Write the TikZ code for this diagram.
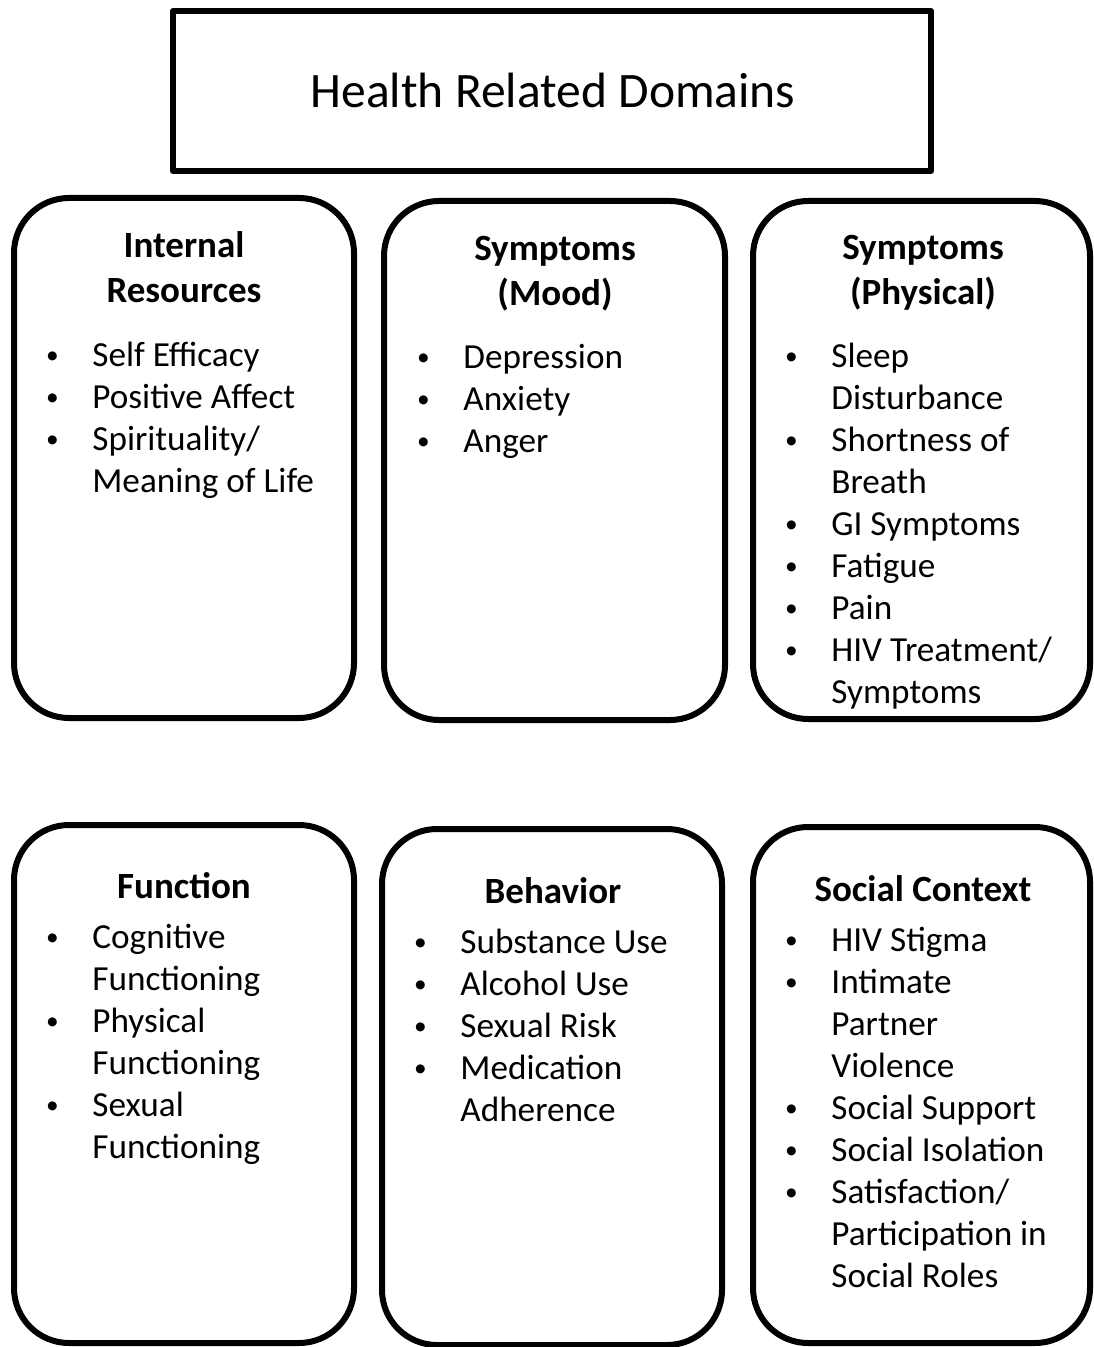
\documentclass[tikz,border=0pt]{standalone}
\usepackage{fontspec}
\setmainfont{Carlito}
\newcommand\bmark{\makebox[20pt]{\raisebox{1.3pt}{\scalebox{0.72}{\textbullet}}}}
\newcommand\bitem[1]{\makebox[30pt][l]{\bmark}#1\strut}
\newcommand\citem[1]{\hspace*{30pt}#1\strut}
\begin{document}
\begin{tikzpicture}[x=0.5pt,y=-0.5pt,
  box/.style={draw, line width=3pt, rounded corners=27.5pt},
  tbox/.style={draw, line width=3pt, line join=round},
  ttl/.style={font=\fontsize{18.5}{22.5}\selectfont\bfseries, align=center, anchor=north, inner sep=0pt},
  lst/.style={font=\fontsize{17.6}{21}\selectfont, align=left, anchor=north west, inner sep=0pt}]
\useasboundingbox (0,0) rectangle (1093,1347);
% title
\draw[tbox] (173,11) rectangle (931,171);
\node[font=\fontsize{24.8}{30}\selectfont, anchor=base, inner sep=0pt] (title) at (553,108) {Health Related Domains};
% boxes
\draw[box] (14,198) rectangle (354,718);
\draw[box] (384,201) rectangle (725,720);
\draw[box] (753,201) rectangle (1090,719);
\draw[box] (14,825) rectangle (354,1343);
\draw[box] (382,829) rectangle (722,1345);
\draw[box] (753,827) rectangle (1090,1343);
% box 1
\node[ttl] (t1) at (184,225.5) {\strut Internal\\\strut Resources};
\node[lst] (l1) at (32,336.6) {\bitem{Self Efficacy}\\\bitem{Positive Affect}\\\bitem{Spirituality/}\\\citem{Meaning of Life}};
% box 2
\node[ttl] (t2) at (555,228.5) {\strut Symptoms\\\strut (Mood)};
\node[lst] (l2) at (403,338.6) {\bitem{Depression}\\\bitem{Anxiety}\\\bitem{Anger}};
% box 3
\node[ttl] (t3) at (923,227.5) {\strut Symptoms\\\strut (Physical)};
\node[lst] (l3) at (771,337.6) {\bitem{Sleep}\\\citem{Disturbance}\\\bitem{Shortness of}\\\citem{Breath}\\\bitem{GI Symptoms}\\\bitem{Fatigue}\\\bitem{Pain}\\\bitem{HIV Treatment/}\\\citem{Symptoms}};
% box 4
\node[ttl] (t4) at (184,866.5) {\strut Function};
\node[lst] (l4) at (32,918.6) {\bitem{Cognitive}\\\citem{Functioning}\\\bitem{Physical}\\\citem{Functioning}\\\bitem{Sexual}\\\citem{Functioning}};
% box 5
\node[ttl] (t5) at (553,871.5) {\strut Behavior};
\node[lst] (l5) at (400,923.6) {\bitem{Substance Use}\\\bitem{Alcohol Use}\\\bitem{Sexual Risk}\\\bitem{Medication}\\\citem{Adherence}};
% box 6
\node[ttl] (t6) at (923,869.5) {\strut Social Context};
\node[lst] (l6) at (771,921.6) {\bitem{HIV Stigma}\\\bitem{Intimate}\\\citem{Partner}\\\citem{Violence}\\\bitem{Social Support}\\\bitem{Social Isolation}\\\bitem{Satisfaction/}\\\citem{Participation in}\\\citem{Social Roles}};
\end{tikzpicture}
\end{document}
